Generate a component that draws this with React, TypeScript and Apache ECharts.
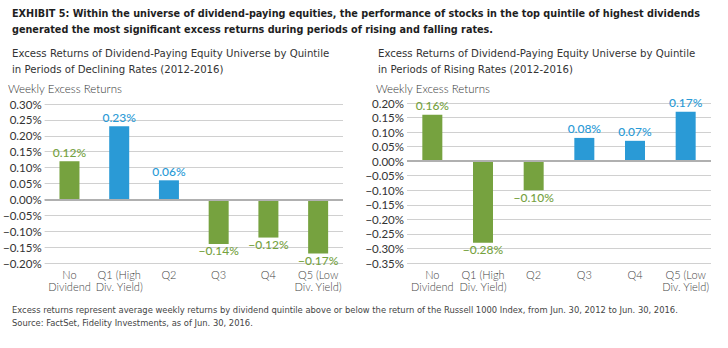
import React, { useEffect, useRef } from "react";
import * as echarts from "echarts";

// ---------- data ----------
const categories = [
  "No\nDividend",
  "Q1 (High\nDiv. Yield)",
  "Q2",
  "Q3",
  "Q4",
  "Q5 (Low\nDiv. Yield)",
];
const decliningValues = [0.12, 0.23, 0.06, -0.14, -0.12, -0.17];
const risingValues = [0.16, -0.28, -0.1, 0.08, 0.07, 0.17];
const decliningGroups = ["green", "blue", "blue", "green", "green", "green"];
const risingGroups = ["green", "green", "green", "blue", "blue", "blue"];
const decliningAxis = { min: -0.2, max: 0.3, interval: 0.05 };
const risingAxis = { min: -0.35, max: 0.2, interval: 0.05 };

const titleLines = [
  "EXHIBIT 5: Within the universe of dividend-paying equities, the performance of stocks in the top quintile of highest dividends",
  "generated the most significant excess returns during periods of rising and falling rates.",
];
const leftSubtitle = [
  "Excess Returns of Dividend-Paying Equity Universe by Quintile",
  "in Periods of Declining Rates (2012-2016)",
];
const rightSubtitle = [
  "Excess Returns of Dividend-Paying Equity Universe by Quintile",
  "in Periods of Rising Rates (2012-2016)",
];
const yAxisTitle = "Weekly Excess Returns";
const footnotes = [
  "Excess returns represent average weekly returns by dividend quintile above or below the return of the Russell 1000 Index, from Jun. 30, 2012 to Jun. 30, 2016.",
  "Source: FactSet, Fidelity Investments, as of Jun. 30, 2016.",
];

// ---------- styles ----------
const COLORS: Record<string, string> = { green: "#76a23f", blue: "#2a9ad6" };
const GRID_COLOR = "#d0d0d0";
const ZERO_COLOR = "#b0b0b0";
const NARROW = "'DejaVu Sans Condensed', 'DejaVu Sans', sans-serif";
const BODY = "Lato, 'Open Sans', sans-serif";

const fmt = (v: number) =>
  (v < -1e-9 ? "\u2212" : "") + Math.abs(v).toFixed(2) + "%";

function makeSeries(values: number[], groups: string[], idx: number) {
  return {
    type: "bar",
    xAxisIndex: idx,
    yAxisIndex: idx,
    barWidth: 20,
    data: values.map((v, i) => ({
      value: v,
      itemStyle: { color: COLORS[groups[i]] },
      label: {
        show: true,
        position: v >= 0 ? "top" : "bottom",
        distance: v >= 0 ? 3 : 1,
        color: COLORS[groups[i]],
        fontFamily: BODY,
        fontSize: 12,
        fontWeight: 500,
        formatter: () => fmt(v),
      },
    })),
    markLine: {
      silent: true,
      symbol: "none",
      label: { show: false },
      lineStyle: { color: ZERO_COLOR, width: 2, type: "solid" },
      data: [{ yAxis: 0 }],
    },
    z: 3,
  };
}

function makeYAxis(idx: number, ax: { min: number; max: number; interval: number }) {
  return {
    type: "value",
    gridIndex: idx,
    min: ax.min,
    max: ax.max,
    interval: ax.interval,
    axisLine: { show: false },
    axisTick: { show: false },
    splitLine: { show: true, lineStyle: { color: GRID_COLOR, width: 1 } },
    axisLabel: {
      margin: 3,
      color: "#333",
      fontFamily: BODY,
      fontSize: 11.5,
      formatter: (v: number) => fmt(v),
    },
  };
}

function makeXAxis(idx: number) {
  return {
    type: "category",
    gridIndex: idx,
    data: categories,
    axisLine: { show: false },
    axisTick: { show: false },
    axisLabel: {
      margin: 5,
      color: "#444",
      fontFamily: BODY,
      fontWeight: 300,
      fontSize: 11,
      lineHeight: 12,
      interval: 0,
    },
  };
}

function text(str: string, x: number, y: number, font: string, fill: string) {
  return {
    type: "text",
    x,
    y,
    silent: true,
    style: {
      text: str,
      font,
      fill,
      textAlign: "left",
      textVerticalAlign: "middle",
      align: "left",
      verticalAlign: "middle",
    },
  };
}

export default function App() {
  const ref = useRef<HTMLDivElement>(null);
  useEffect(() => {
    document.body.style.margin = "0";
    if (!ref.current) return;
    const chart = echarts.init(ref.current, null, { renderer: "svg" });
    const titleFont = `bold 10.75px ${NARROW}`;
    const subFont = `11.3px ${NARROW}`;
    const axTitleFont = `300 11.5px ${BODY}`;
    const footFont = `9.3px ${NARROW}`;
    chart.setOption({
      animation: false,
      backgroundColor: "#ffffff",
      grid: [
        { left: 39, width: 304, top: 104, height: 159 },
        { left: 407, width: 304, top: 103, height: 160 },
      ],
      xAxis: [makeXAxis(0), makeXAxis(1)],
      yAxis: [makeYAxis(0, decliningAxis), makeYAxis(1, risingAxis)],
      series: [
        makeSeries(decliningValues, decliningGroups, 0),
        makeSeries(risingValues, risingGroups, 1),
      ],
      graphic: [
        text(titleLines[0], 12, 13.5, titleFont, "#1e1e1e"),
        text(titleLines[1], 12, 29.5, titleFont, "#1e1e1e"),
        text(leftSubtitle[0], 12, 53, subFont, "#333"),
        text(leftSubtitle[1], 12, 69, subFont, "#333"),
        text(rightSubtitle[0], 378, 53, subFont, "#333"),
        text(rightSubtitle[1], 378, 69, subFont, "#333"),
        text(yAxisTitle, 8, 88, axTitleFont, "#333"),
        text(yAxisTitle, 376, 88, axTitleFont, "#333"),
        text(footnotes[0], 12, 309, footFont, "#444"),
        text(footnotes[1], 12, 322, footFont, "#444"),
      ],
    });
    return () => chart.dispose();
  }, []);
  return <div ref={ref} style={{ width: 728, height: 348 }} />;
}
